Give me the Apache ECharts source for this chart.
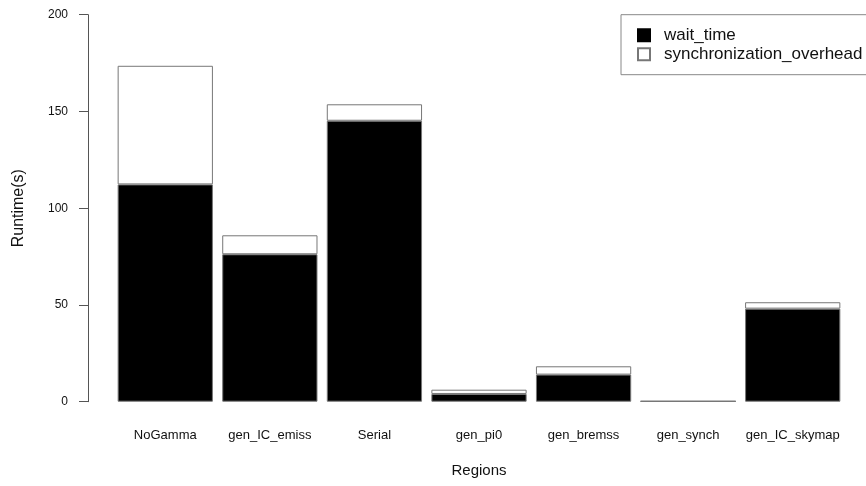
<!DOCTYPE html>
<html>
<head>
<meta charset="utf-8">
<script src="https://cdn.jsdelivr.net/npm/echarts@6/dist/echarts.min.js"></script>
<style>
  html, body { margin: 0; padding: 0; background: #fff; }
  #chart { width: 866px; height: 486px; }
</style>
</head>
<body>
<div id="chart"></div>
<script>
// Runtime per region, split into wait time and synchronization overhead (seconds)
const regions = ['NoGamma', 'gen_IC_emiss', 'Serial', 'gen_pi0', 'gen_bremss', 'gen_synch', 'gen_IC_skymap'];
const waitTime = [112.3, 76.2, 145.2, 4.0, 14.0, 0.2, 48.1];
const syncOverhead = [61.3, 9.8, 8.5, 2.2, 4.3, 0.1, 3.3];
const yTicks = [0, 50, 100, 150, 200];

const FONT = '"Liberation Sans", Arial, Helvetica, sans-serif';
const EDGE = '#777';

const chart = echarts.init(document.getElementById('chart'), null, { renderer: 'canvas' });

chart.setOption({
  animation: false,
  backgroundColor: '#fff',
  textStyle: { fontFamily: FONT },
  grid: { left: 113, top: 14.7, width: 732, height: 387, containLabel: false },
  legend: {
    orient: 'vertical',
    left: 621,
    top: 14.7,
    padding: [12, 12, 12, 16],
    itemGap: 2,
    itemWidth: 12,
    itemHeight: 12,
    borderColor: '#888',
    borderWidth: 1,
    icon: 'rect',
    textStyle: { fontSize: 17, color: '#111', fontFamily: FONT, padding: [0, 0, 0, 9] },
    data: [
      { name: 'wait_time', itemStyle: { color: '#000', borderColor: '#000' } },
      { name: 'synchronization_overhead', itemStyle: { color: '#fff', borderColor: EDGE } }
    ]
  },
  xAxis: {
    type: 'category',
    data: regions,
    axisLine: { show: false },
    axisTick: { show: false },
    axisLabel: { margin: 27, fontSize: 13, color: '#111', fontFamily: FONT, interval: 0 },
    name: 'Regions',
    nameLocation: 'middle',
    nameGap: 62,
    nameTextStyle: { fontSize: 15, color: '#111', fontFamily: FONT }
  },
  yAxis: {
    type: 'value',
    min: yTicks[0],
    max: yTicks[yTicks.length - 1],
    interval: yTicks[1] - yTicks[0],
    offset: 25,
    axisLine: { show: true, lineStyle: { color: '#555', width: 1 } },
    axisTick: { show: true, length: 9, lineStyle: { color: '#555', width: 1 } },
    splitLine: { show: false },
    axisLabel: { margin: 20, fontSize: 12, color: '#111', fontFamily: FONT },
    name: 'Runtime(s)',
    nameLocation: 'middle',
    nameGap: 61,
    nameRotate: 90,
    nameTextStyle: { fontSize: 16, color: '#111', fontFamily: FONT }
  },
  series: [
    {
      name: 'wait_time',
      type: 'bar',
      stack: 'runtime',
      barCategoryGap: '8.9%',
      data: waitTime,
      itemStyle: { color: '#000', borderColor: EDGE, borderWidth: 1 }
    },
    {
      name: 'synchronization_overhead',
      type: 'bar',
      stack: 'runtime',
      barCategoryGap: '8.9%',
      data: syncOverhead,
      itemStyle: { color: '#fff', borderColor: EDGE, borderWidth: 1 }
    }
  ]
});
</script>
</body>
</html>
